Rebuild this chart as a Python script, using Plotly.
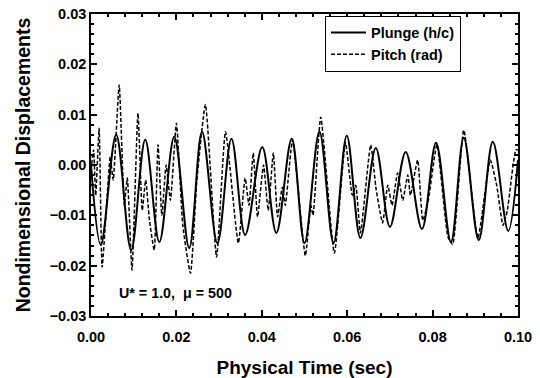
import plotly.graph_objects as go

# Plunge (h/c) - read extrema
plunge_t = [0.0000, 0.0023, 0.0059, 0.0094, 0.0127, 0.0160, 0.0195, 0.0230, 0.0260, 0.0296,
            0.0329, 0.0361, 0.0401, 0.0434, 0.0470, 0.0500, 0.0535, 0.0568, 0.0599, 0.0631,
            0.0667, 0.0700, 0.0737, 0.0775, 0.0808, 0.0843, 0.0873, 0.0908, 0.0941, 0.0977, 0.1000]
plunge_v = [0.0000, -0.0159, 0.0060, -0.0169, 0.0050, -0.0153, 0.0056, -0.0165, 0.0066, -0.0155,
            0.0052, -0.0139, 0.0036, -0.0135, 0.0052, -0.0155, 0.0066, -0.0155, 0.0058, -0.0145,
            0.0034, -0.0123, 0.0026, -0.0127, 0.0044, -0.0153, 0.0054, -0.0149, 0.0046, -0.0131, 0.0010]

# Pitch (rad)
pitch_t = [0.0000, 0.0006, 0.0011, 0.0019, 0.0026, 0.0038, 0.0045, 0.0052, 0.0066, 0.0078,
           0.0085, 0.0096, 0.0110, 0.0120, 0.0128, 0.0137, 0.0148, 0.0157, 0.0166, 0.0176,
           0.0186, 0.0200, 0.0215, 0.0233, 0.0248, 0.0268, 0.0294, 0.0315, 0.0345, 0.0361,
           0.0370, 0.0380, 0.0390, 0.0404, 0.0415, 0.0427, 0.0437, 0.0448, 0.0455, 0.0472,
           0.0502, 0.0515, 0.0520, 0.0538, 0.0570, 0.0596, 0.0612, 0.0620, 0.0631, 0.0655,
           0.0668, 0.0683, 0.0695, 0.0705, 0.0718, 0.0730, 0.0742, 0.0748, 0.0765, 0.0777,
           0.0790, 0.0810, 0.0836, 0.0847, 0.0873, 0.0906, 0.0935, 0.0950, 0.0965, 0.0975,
           0.0995, 0.1000]
pitch_v = [-0.0010, 0.0030, -0.0060, 0.0073, -0.0203, -0.0060, 0.0016, -0.0030, 0.0159, -0.0080,
           -0.0026, -0.0209, 0.0103, -0.0090, -0.0030, -0.0110, -0.0169, 0.0040, -0.0100, 0.0000,
           -0.0070, 0.0083, -0.0120, -0.0215, -0.0030, 0.0120, -0.0183, 0.0066, -0.0155, -0.0026,
           -0.0080, 0.0024, -0.0103, 0.0000, -0.0090, 0.0024, -0.0103, -0.0044, -0.0080, 0.0050,
           -0.0180, -0.0080, -0.0100, 0.0095, -0.0175, 0.0044, -0.0060, -0.0040, -0.0135, 0.0040,
           -0.0050, -0.0115, -0.0040, -0.0080, -0.0016, -0.0070, -0.0020, -0.0060, 0.0010, -0.0110,
           -0.0070, 0.0040, -0.0143, -0.0158, 0.0069, -0.0145, 0.0010, -0.0040, -0.0120, -0.0090,
           0.0030, 0.0030]

x_ticks = [0.00, 0.02, 0.04, 0.06, 0.08, 0.10]
y_ticks = [-0.03, -0.02, -0.01, 0.00, 0.01, 0.02, 0.03]

FONT = "Liberation Sans"
fig = go.Figure()
fig.add_trace(go.Scatter(x=plunge_t, y=plunge_v, mode="lines", name="Plunge (h/c)",
                         line=dict(color="black", width=2, shape="spline", smoothing=1.0)))
fig.add_trace(go.Scatter(x=pitch_t, y=pitch_v, mode="lines", name="Pitch (rad)",
                         line=dict(color="black", width=1.5, dash="4px,2px", shape="spline", smoothing=0.5)))

axis_common = dict(showgrid=False, zeroline=False, showline=True, linecolor="black", linewidth=1.5,
                   mirror="ticks", ticks="inside", ticklen=6, tickcolor="black", tickwidth=1.5,
                   tickformat=".2f", automargin=False, ticklabeloverflow="allow",
                   tickfont=dict(family=FONT, size=14.5, color="black", weight="bold"))

fig.update_layout(
    width=540, height=378,
    margin=dict(l=91, r=22, t=14, b=62),
    paper_bgcolor="white", plot_bgcolor="white",
    font=dict(family=FONT, color="black"),
    showlegend=True,
    legend=dict(x=0.548, y=0.995, xanchor="left", yanchor="top", bgcolor="white",
                bordercolor="black", borderwidth=1,
                font=dict(family=FONT, size=14.5, color="black", weight="bold"),
                itemwidth=35, tracegroupgap=0),
    xaxis=dict(range=[0, 0.1], tickvals=x_ticks, ticklabelstandoff=7,
               title=dict(text="Physical Time (sec)", standoff=17,
                          font=dict(family=FONT, size=19, color="black", weight="bold")),
               minor=dict(ticks="inside", ticklen=3, tickcolor="black", dtick=0.004, tick0=0),
               **axis_common),
    yaxis=dict(range=[-0.03, 0.03], tickvals=y_ticks,
               title=dict(text="Nondimensional Displacements", standoff=14,
                          font=dict(family=FONT, size=19.5, color="black", weight="bold")),
               minor=dict(ticks="inside", ticklen=3, tickcolor="black", dtick=0.002, tick0=0),
               **axis_common),
)

fig.add_annotation(x=0.0062, y=-0.0255, xref="x", yref="y", xanchor="left", yanchor="middle",
                   text="U* = 1.0,  \u03bc = 500", showarrow=False,
                   font=dict(family=FONT, size=14.3, color="black", weight="bold"))

# remove the page's default 8px body margin so the figure fills the window exactly
fig.write_html("out.html", config={"displayModeBar": False},
               post_script="document.body.style.margin='0';")
